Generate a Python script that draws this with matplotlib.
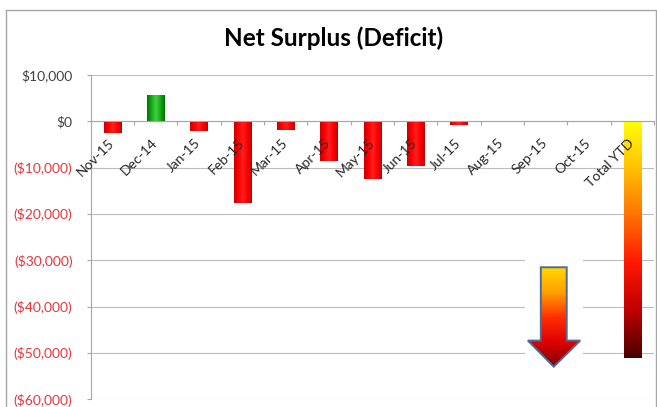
import numpy as np
import matplotlib.pyplot as plt
from matplotlib.colors import LinearSegmentedColormap
from matplotlib.patches import Polygon, Rectangle
from matplotlib.ticker import FuncFormatter, FixedLocator

plt.rcParams['font.family'] = ['Lato', 'DejaVu Sans']

months = ['Nov-15', 'Dec-14', 'Jan-15', 'Feb-15', 'Mar-15', 'Apr-15', 'May-15',
          'Jun-15', 'Jul-15', 'Aug-15', 'Sep-15', 'Oct-15', 'Total YTD']
values = [-2500, 5700, -2200, -17600, -1900, -8500, -12500, -9700, -800, 0, 0, 0, -51000]
yticks = [10000, 0, -10000, -20000, -30000, -40000, -50000, -60000]

red_cmap = LinearSegmentedColormap.from_list('r', ['#c80000', '#ff0000', '#ff2020', '#ff0000', '#c00000'])
green_cmap = LinearSegmentedColormap.from_list('g', ['#007000', '#18a818', '#40d040', '#18a818', '#007000'])
total_cmap = LinearSegmentedColormap.from_list('t', ['#ffff00', '#ffc000', '#ff7000', '#ff1800', '#c00000', '#4a0000'])
arrow_cmap = LinearSegmentedColormap.from_list('a', ['#ffd800', '#ffa000', '#ff3000', '#e00000', '#800000'])

fig = plt.figure(figsize=(6.57, 4.07), dpi=100)
ax = fig.add_axes([0.138, 0.019, 0.8575, 0.7968])

x = np.arange(len(months))
bars = ax.bar(x, values, width=0.4, color='none', edgecolor='none', zorder=3)

hgrad = np.linspace(0, 1, 64).reshape(1, -1)
vgrad = np.linspace(0, 1, 128).reshape(-1, 1)
for i, (b, v) in enumerate(zip(bars, values)):
    if v == 0:
        continue
    x0, w = b.get_x(), b.get_width()
    y0, y1 = min(0, v), max(0, v)
    if months[i] == 'Total YTD':
        img, cmap = vgrad, total_cmap
    else:
        img, cmap = hgrad, (green_cmap if v > 0 else red_cmap)
    im = ax.imshow(img, cmap=cmap, extent=(x0, x0 + w, y0, y1), aspect='auto',
                   zorder=3, interpolation='bilinear')
    im.set_clip_path(b)

ax.set_xlim(-0.5, len(months) - 0.5)
ax.set_ylim(-60000, 10000)
ax.set_yticks(yticks)

def money(v, pos):
    if v == 0:
        return '$0'
    if v > 0:
        return '${:,.0f}'.format(v)
    return '(${:,.0f})'.format(-v)

ax.yaxis.set_major_formatter(FuncFormatter(money))
ax.tick_params(axis='y', length=3, width=0.8, color='#a6a6a6', pad=10, labelsize=10)
for lab, v in zip(ax.get_yticklabels(), yticks):
    lab.set_color('#e8353d' if v < 0 else '#404040')

ax.grid(axis='y', color='#bcbcbc', linewidth=0.8, zorder=0)
ax.set_axisbelow(True)

# horizontal axis crosses at zero
ax.spines['bottom'].set_position(('data', 0))
ax.spines['bottom'].set_color('#a6a6a6')
ax.spines['bottom'].set_zorder(4)
ax.spines['left'].set_color('#a6a6a6')
ax.spines['top'].set_visible(False)
ax.spines['right'].set_visible(False)
ax.xaxis.set_major_locator(FixedLocator(np.arange(-0.5, len(months), 1.0)))
ax.set_xticklabels([])
ax.tick_params(axis='x', length=3, width=0.8, color='#a6a6a6', direction='out')

for i, m in enumerate(months):
    ax.annotate(m, (i, 0), xytext=(3, -11), textcoords='offset points', rotation=45,
                ha='right', va='top', fontsize=10, color='#262626', zorder=5)

fig.text(0.507, 0.907, 'Net Surplus (Deficit)', fontsize=17.5, fontweight='bold',
         color='#000000', ha='center', va='center')

# decorative down arrow
ax.add_patch(Rectangle((0.771, 0.09), 0.103, 0.36, transform=ax.transAxes,
                       facecolor='white', edgecolor='none', zorder=5))
arrow_pts = [(0.799, 0.407), (0.845, 0.407), (0.845, 0.181), (0.869, 0.181),
             (0.822, 0.1005), (0.776, 0.181), (0.799, 0.181)]
arrow = Polygon(arrow_pts, closed=True, transform=ax.transAxes, facecolor='none',
                edgecolor='#4f6b96', linewidth=1.4, zorder=7)
ax.add_patch(arrow)
aim = ax.imshow(np.linspace(0, 1, 128).reshape(-1, 1), cmap=arrow_cmap,
                extent=(0.776, 0.869, 0.1005, 0.407), transform=ax.transAxes,
                aspect='auto', zorder=6, interpolation='bilinear')
aim.set_clip_path(arrow)
ax.set_xlim(-0.5, len(months) - 0.5)
ax.set_ylim(-60000, 10000)

# chart frame
fig.add_artist(Rectangle((0.009, -0.02), 0.989, 0.995, transform=fig.transFigure,
                         fill=False, edgecolor='#a6a6a6', linewidth=1.0))

fig.savefig('out.png', dpi=100)
